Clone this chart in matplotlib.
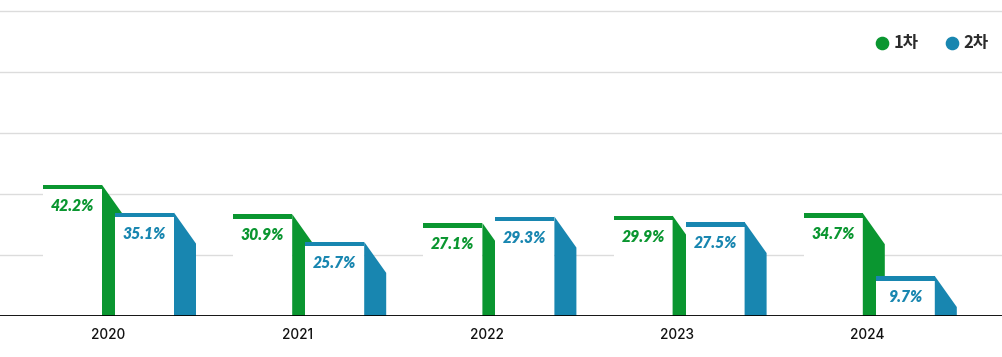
import matplotlib
matplotlib.use("Agg")
import matplotlib.pyplot as plt
from matplotlib.patches import Rectangle, Polygon

years = ["2020", "2021", "2022", "2023", "2024"]
series_names = ["1차", "2차"]
# bar heights (axis 0-100)
first_heights = [43.0, 33.4, 30.5, 32.9, 33.7]
second_heights = [33.9, 24.3, 32.6, 30.8, 13.1]
first_labels = ["42.2%", "30.9%", "27.1%", "29.9%", "34.7%"]
second_labels = ["35.1%", "25.7%", "29.3%", "27.5%", "9.7%"]

GREEN = "#0a9630"
BLUE = "#1886b0"

W, H = 1002, 357
fig = plt.figure(figsize=(W / 100, H / 100), dpi=100)
base_px, top_px = 316, 11
ax = fig.add_axes([0, (H - base_px) / H, 1, (base_px - top_px) / H])
ax.set_xlim(0, W)
ax.set_ylim(0, 100)
ppu = (base_px - top_px) / 100.0  # pixels per y unit

for g in [20, 40, 60, 80, 100]:
    ax.axhline(g, color="#dcdcdc", lw=1.0, zorder=0, clip_on=False)
ax.axhline(0, color="black", lw=1.3, zorder=10)
for s in ax.spines.values():
    s.set_visible(False)
ax.set_xticks([])
ax.set_yticks([])

front_w = 59
side_dx = 22
side_dy = 31 / ppu
strip = 4.6 / ppu
spacing = 190.2


def draw_bar(x0, h, color, label, z):
    # white front face
    ax.add_patch(Rectangle((x0, 0), front_w, h, facecolor="white", edgecolor="none", zorder=z))
    # colored top strip
    ax.add_patch(Rectangle((x0, h - strip), front_w, strip, facecolor=color, edgecolor="none", zorder=z + 0.1))
    # slanted side face
    xr = x0 + front_w
    ax.add_patch(Polygon([(xr, h), (xr + side_dx, h - side_dy), (xr + side_dx, 0), (xr, 0)],
                         closed=True, facecolor=color, edgecolor="none", zorder=z + 0.1))
    ax.text(x0 + front_w / 2, h - 21 / ppu, label, ha="center", va="center", color=color,
            fontsize=11.3, fontweight="heavy", fontstyle="italic", family="Lato", zorder=z + 0.2)


for i, yr in enumerate(years):
    c = 108 + spacing * i
    draw_bar(c - 65, first_heights[i], GREEN, first_labels[i], 2 + i)
    draw_bar(c + 7, second_heights[i], BLUE, second_labels[i], 2.5 + i)
    ax.text(c - 0.5 * i, -19 / ppu, yr, ha="center", va="center", fontsize=9.8, color="#111111",
            family="Inter", fontweight="medium", clip_on=False)

# legend
leg_y = (base_px - 42.7) / ppu
for x, col, name in [(881.7, GREEN, series_names[0]), (951.7, BLUE, series_names[1])]:
    ax.plot([x], [leg_y], marker="o", markersize=8.8, color=col, linestyle="none", zorder=20)
    ax.text(x + 11.5, leg_y, name, ha="left", va="center", fontsize=12, fontweight="heavy",
            color="#2b2b2b", family=["Noto Sans CJK KR", "DejaVu Sans"], zorder=20)

fig.savefig("out.png", dpi=100)
